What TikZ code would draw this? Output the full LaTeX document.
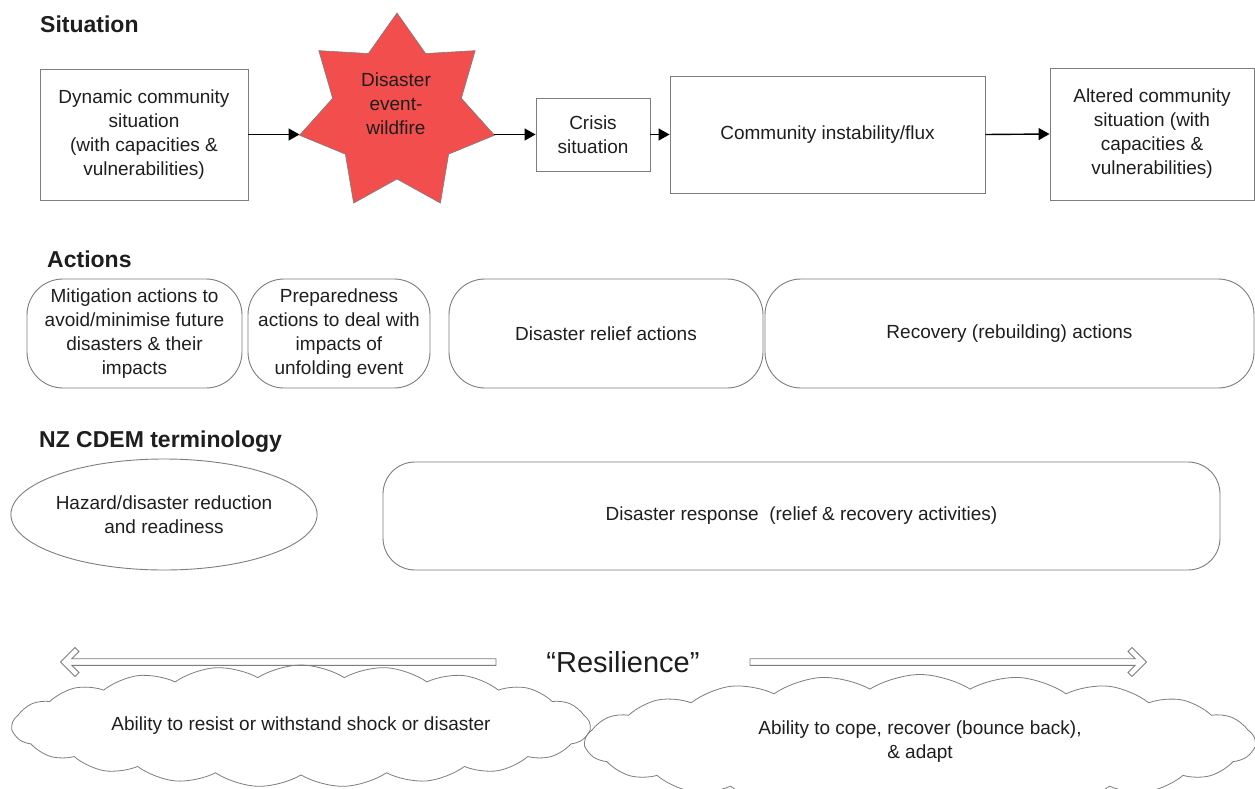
\documentclass[tikz,border=0pt]{standalone}
\usepackage{fontspec}
\setmainfont{Liberation Sans}
\usetikzlibrary{shapes.geometric,shapes.symbols,arrows.meta}
\definecolor{starred}{RGB}{242,78,78}
\definecolor{edgegray}{RGB}{125,125,125}
\definecolor{txt}{RGB}{30,30,30}
\begin{document}
\begin{tikzpicture}[x=1pt,y=-1pt,
 every node/.style={font=\fontsize{19}{24}\selectfont, text=txt, align=center, inner sep=0pt},
 heading/.style={font=\fontsize{23}{27}\selectfont\bfseries, anchor=base west},
 sitbox/.style={draw=edgegray, line width=0.9pt, rectangle},
 actbox/.style={draw=edgegray, line width=0.9pt, rectangle, rounded corners=36pt},
 flow/.style={line width=1.4pt, -{Triangle[length=11pt,width=12pt]}},
 hollowarrow/.style={draw=edgegray, line width=0.9pt, fill=white, line join=miter},
 starshape/.style={fill=starred, draw=edgegray, line width=0.6pt, line join=miter},
 cloudbox/.style={cloud, cloud puffs=21, cloud puff arc=65, cloud ignores aspect, draw=edgegray, line width=0.8pt}
]
\useasboundingbox (0,0) rectangle (1255,789);

% headings
\node[heading] (hsit) at (40,33) {Situation};
\node[heading] (hact) at (47,267) {Actions};
\node[heading] (hnz) at (39,447) {NZ CDEM terminology};

% situation row
\node[sitbox, minimum width=208pt, minimum height=131pt] (box1) at (144,134.5)
  {Dynamic community\\situation\\(with capacities \&\\vulnerabilities)};

\begin{scope}[shift={(397,113)}]
  \draw[starshape] (-90:100) -- (-64.286:66) -- (-38.571:100) -- (-12.857:66)
    -- (12.857:100) -- (38.571:66) -- (64.286:100) -- (90:66) -- (115.714:100)
    -- (141.429:66) -- (167.143:100) -- (192.857:66) -- (218.571:100)
    -- (244.286:66) -- cycle;
  \coordinate (starR) at (12.857:100);
  \coordinate (starL) at (167.143:100);
\end{scope}
\node (startxt) at (396,104) {Disaster\\event-\\wildfire};

\node[sitbox, minimum width=114pt, minimum height=73pt] (crisis) at (593,134.5) {Crisis\\situation};
\node[sitbox, minimum width=315pt, minimum height=117pt] (flux) at (827.5,134.5) {Community instability/flux};
\node[sitbox, minimum width=204pt, minimum height=132pt] (altered) at (1152,134)
  {Altered community\\situation (with\\capacities \&\\vulnerabilities)};

\draw[flow] (box1.east) -- (box1.east -| starL);
\draw[flow] (starR |- crisis.west) -- (crisis.west);
\draw[flow] (crisis.east) -- (flux.west);
\draw[flow] (flux.east) -- (altered.west);

% actions row
\node[actbox, minimum width=215pt, minimum height=109pt] (mit) at (134.5,333.5)
  {Mitigation actions to\\avoid/minimise future\\disasters \& their\\impacts};
\node[actbox, minimum width=182pt, minimum height=109pt] (prep) at (339,333.5)
  {Preparedness\\actions to deal with\\impacts of\\unfolding event};
\node[actbox, minimum width=314pt, minimum height=109pt] (relief) at (606,333.5) {Disaster relief actions};
\node[actbox, minimum width=489pt, minimum height=109pt] (recov) at (1009.5,333.5) {Recovery (rebuilding) actions};

% NZ CDEM row
\node[ellipse, draw=edgegray, line width=0.9pt, minimum width=302pt, minimum height=111pt] (hazard) at (164,514.5)
  {Hazard/disaster reduction\\and readiness};
\node[actbox, rounded corners=32pt, minimum width=837pt, minimum height=108pt] (response) at (801.5,516)
  {Disaster response\ \ (relief \& recovery activities)};

% resilience
\node[font=\fontsize{29}{34}\selectfont] (resil) at (623,662) {“Resilience”};
% left hollow arrow
\draw[hollowarrow] (496,658.7) -- (71.8,658.7) -- (79,651.5) -- (75,647.5) -- (60.5,662)
  -- (75,676.5) -- (79,672.5) -- (71.8,665.3) -- (496,665.3) -- cycle;
% right hollow arrow
\draw[hollowarrow] (750,658.7) -- (1135.2,658.7) -- (1128,651.5) -- (1132,647.5) -- (1146.5,662)
  -- (1132,676.5) -- (1128,672.5) -- (1135.2,665.3) -- (750,665.3) -- cycle;

\node[cloudbox, minimum width=670pt, minimum height=135pt] (cloud2) at (920,742)
  {Ability to cope, recover (bounce back),\\\& adapt};
\node[cloudbox, minimum width=578pt, minimum height=122pt] (cloud1) at (301,726)
  {Ability to resist or withstand shock or disaster};
\end{tikzpicture}
\end{document}
